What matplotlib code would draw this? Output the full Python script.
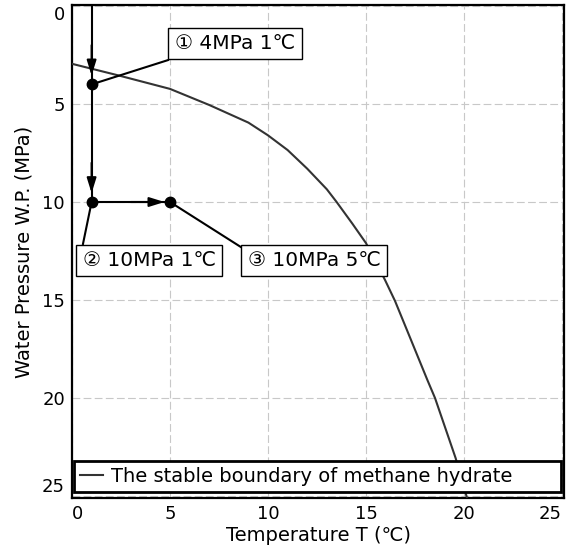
import matplotlib
matplotlib.use("Agg")
import matplotlib.pyplot as plt

plt.rcParams['font.family'] = ['DejaVu Sans', 'Noto Sans CJK SC']

# Boundary curve data
T_boundary = [0, 2.4, 5.0, 7.0, 9.0, 10.0, 11.0, 12.0, 13.0, 13.5, 14.3, 15.0, 15.97, 16.48, 17.3, 18.13, 18.52, 19.57, 20.14]
P_boundary = [2.95, 3.55, 4.23, 5.05, 5.95, 6.6, 7.35, 8.3, 9.35, 10.0, 11.1, 12.1, 13.98, 15.05, 17.05, 19.08, 20.0, 23.06, 25.05]

# Process states
state_T = [1, 1, 5]
state_P = [4, 10, 10]
state_labels = ["① 4MPa 1℃", "② 10MPa 1℃", "③ 10MPa 5℃"]
# callout text anchors
box_T = [5.25, 0.55, 8.97]
box_P = [2.4, 12.5, 12.5]
# leader line ends
leader_T = [4.9, 0.56, 8.62]
leader_P = [2.76, 12.14, 12.3]

xticks = [0, 5, 10, 15, 20, 25]
yticks = [0, 5, 10, 15, 20, 25]

fig = plt.figure(figsize=(5.66, 5.47), dpi=100)
ax = fig.add_axes([72/566, 1-498/547, 492/566, 493/547])

ax.set_xlim(0, 25.1)
ax.set_ylim(25.1, -0.05)

ax.grid(True, color='#c8c8c8', linestyle=(0, (7, 3)), linewidth=0.8)
ax.set_axisbelow(True)
for s in ax.spines.values():
    s.set_linewidth(1.6)
    s.set_color('black')

ax.set_xticks(xticks)
ax.set_yticks(yticks)
ax.tick_params(length=0, pad=5, labelsize=13)
xl = ax.get_xticklabels()
xl[0].set_ha('left')
xl[-1].set_ha('right')
yl = ax.get_yticklabels()
yl[0].set_va('top')
yl[-1].set_va('bottom')

# boundary curve
ax.plot(T_boundary, P_boundary, color='#333333', linewidth=1.5,
        label='The stable boundary of methane hydrate', zorder=3)

# process path
path_T = [1, 1, 1, 5]
path_P = [0, 4, 10, 10]
ax.plot(path_T, path_P, color='black', linewidth=1.5, zorder=4)
arrow_kw = dict(arrowstyle='-|>,head_length=0.9,head_width=0.28', color='black',
                lw=1.5, shrinkA=0, shrinkB=0)
ax.annotate('', xy=(1, 3.55), xytext=(1, 2.0), arrowprops=arrow_kw, zorder=5)
ax.annotate('', xy=(1, 9.55), xytext=(1, 8.0), arrowprops=arrow_kw, zorder=5)
ax.annotate('', xy=(4.72, 10), xytext=(3.0, 10), arrowprops=arrow_kw, zorder=5)

ax.plot(state_T, state_P, 'o', color='black', markersize=7.5, zorder=6)

# leaders
for t, p, lt, lp in zip(state_T, state_P, leader_T, leader_P):
    ax.plot([t, lt], [p, lp], color='black', linewidth=1.5, zorder=4)

bbox = dict(boxstyle='square,pad=0.32', facecolor='white', edgecolor='black', linewidth=1.0)
ax.text(box_T[0], box_P[0], state_labels[0], fontsize=14.5, ha='left', va='bottom', bbox=bbox, zorder=7)
ax.text(box_T[1], box_P[1], state_labels[1], fontsize=14.5, ha='left', va='top', bbox=bbox, zorder=7)
ax.text(box_T[2], box_P[2], state_labels[2], fontsize=14.5, ha='left', va='top', bbox=bbox, zorder=7)

leg = ax.legend(loc='lower left', bbox_to_anchor=(0.004, 0.012, 0.99, 0.06), mode='expand',
                borderaxespad=0, fancybox=False, edgecolor='black', framealpha=1,
                fontsize=14, handlelength=1.2, handletextpad=0.4, borderpad=0.3)
leg.get_frame().set_linewidth(2.0)
leg.set_zorder(8)

ax.set_xlabel('Temperature T (℃)', fontsize=14, labelpad=2)
ax.set_ylabel('Water Pressure W.P. (MPa)', fontsize=14, labelpad=6)

fig.savefig('out.png', dpi=100)
